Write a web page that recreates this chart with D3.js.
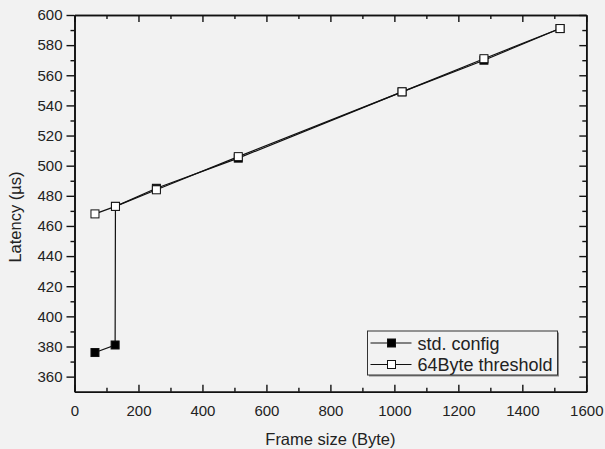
<!DOCTYPE html>
<html>
<head>
<meta charset="utf-8">
<script src="https://cdn.jsdelivr.net/npm/d3@7"></script>
<style>
  html, body { margin: 0; padding: 0; background: #f2f2f2; }
  svg { display: block; font-family: "Liberation Sans", Arial, sans-serif; }
</style>
</head>
<body>
<div id="chart-area"></div>
<script>
// data
const stdSize = [64, 127, 128, 256, 512, 1024, 1280, 1518];
const stdLatency = [376, 381, 473, 485, 505, 549, 570, 591];
const thrSize = [64, 128, 256, 512, 1024, 1280, 1518];
const thrLatency = [468, 473, 484, 506, 549, 571, 591];
const seriesNames = ["std. config", "64Byte threshold"];
const xTicks = [0, 200, 400, 600, 800, 1000, 1200, 1400, 1600];
const yTicks = [360, 380, 400, 420, 440, 460, 480, 500, 520, 540, 560, 580, 600];

const W = 605, H = 449;
const plot = {LEFT: 74.5, TOP: 15, RIGHT: 586.3, BOTTOM: 391.7};

let svg = d3.select("#chart-area").append("svg")
  .attr("width", W).attr("height", H);

svg.append("rect").attr("width", W).attr("height", H).attr("fill", "#f2f2f2");

let x = d3.scaleLinear().domain([0, 1600]).range([plot.LEFT, plot.RIGHT]);
let y = d3.scaleLinear().domain([350, 600]).range([plot.BOTTOM, plot.TOP]);

const minorX = d3.range(100, 1600, 200);
const minorY = d3.range(350, 600, 20).filter(v => v > 350);
const fmt = d3.format("d");

function styleAxis(g) {
  g.selectAll("path").attr("stroke", "#111").attr("stroke-width", 1.6);
  g.selectAll("line").attr("stroke", "#111").attr("stroke-width", 1.4);
  g.selectAll("text").attr("fill", "#222").attr("font-size", "15px")
    .attr("font-family", "Liberation Sans, Arial, sans-serif");
}

// left axis (ticks outward)
svg.append("g").attr("transform", `translate(${plot.LEFT},0)`)
  .call(d3.axisLeft(y).tickValues(yTicks).tickSize(8).tickSizeOuter(0).tickPadding(4).tickFormat(fmt))
  .call(styleAxis);
svg.append("g").attr("transform", `translate(${plot.LEFT},0)`)
  .call(d3.axisLeft(y).tickValues(minorY).tickSize(4).tickSizeOuter(0).tickFormat(""))
  .call(styleAxis);

// bottom axis (ticks inward)
svg.append("g").attr("transform", `translate(0,${plot.BOTTOM})`)
  .call(d3.axisBottom(x).tickValues(xTicks).tickSize(-7).tickSizeOuter(0).tickPadding(14).tickFormat(fmt))
  .call(styleAxis);
svg.append("g").attr("transform", `translate(0,${plot.BOTTOM})`)
  .call(d3.axisBottom(x).tickValues(minorX).tickSize(-4).tickSizeOuter(0).tickFormat(""))
  .call(styleAxis);

// top axis (ticks inward, no labels)
svg.append("g").attr("transform", `translate(0,${plot.TOP})`)
  .call(d3.axisTop(x).tickValues(xTicks).tickSize(-7).tickSizeOuter(0).tickFormat(""))
  .call(styleAxis);
svg.append("g").attr("transform", `translate(0,${plot.TOP})`)
  .call(d3.axisTop(x).tickValues(minorX).tickSize(-4).tickSizeOuter(0).tickFormat(""))
  .call(styleAxis);

// right axis (ticks inward, no labels)
svg.append("g").attr("transform", `translate(${plot.RIGHT},0)`)
  .call(d3.axisRight(y).tickValues(yTicks).tickSize(-7).tickSizeOuter(0).tickFormat(""))
  .call(styleAxis);
svg.append("g").attr("transform", `translate(${plot.RIGHT},0)`)
  .call(d3.axisRight(y).tickValues(minorY).tickSize(-4).tickSizeOuter(0).tickFormat(""))
  .call(styleAxis);

// axis titles
svg.append("text")
  .attr("x", (plot.LEFT + plot.RIGHT) / 2).attr("y", 445)
  .attr("text-anchor", "middle").attr("font-size", "16.5px").attr("fill", "#222")
  .text("Frame size (Byte)");
svg.append("text")
  .attr("transform", `translate(21,217) rotate(-90)`)
  .attr("text-anchor", "middle").attr("font-size", "16.5px").attr("fill", "#222")
  .text("Latency (µs)");

// series
const line = d3.line().x(d => x(d[0])).y(d => y(d[1]));
const stdData = stdSize.map((s, i) => [s, stdLatency[i]]);
const thrData = thrSize.map((s, i) => [s, thrLatency[i]]);

function drawSeries(data, fill) {
  svg.append("path").attr("d", line(data))
    .attr("fill", "none").attr("stroke", "#111").attr("stroke-width", 1.2);
  svg.append("g").selectAll("rect").data(data).enter().append("rect")
    .attr("x", d => x(d[0]) - 4).attr("y", d => y(d[1]) - 4)
    .attr("width", 8).attr("height", 8)
    .attr("fill", fill).attr("stroke", "#111").attr("stroke-width", 1);
}
drawSeries(stdData, "#000");
drawSeries(thrData, "#fff");

// legend
const leg = {x: 367.5, y: 331, w: 190, h: 44};
svg.append("rect").attr("x", leg.x + 1.5).attr("y", leg.y + 1.5)
  .attr("width", leg.w).attr("height", leg.h).attr("fill", "#888");
svg.append("rect").attr("x", leg.x).attr("y", leg.y)
  .attr("width", leg.w).attr("height", leg.h)
  .attr("fill", "#f2f2f2").attr("stroke", "#333").attr("stroke-width", 1);

const legRows = [[seriesNames[0], "#000"], [seriesNames[1], "#fff"]];
legRows.forEach(function(r, i) {
  let cy = leg.y + 12 + i * 21.5;
  svg.append("line").attr("x1", leg.x + 3).attr("x2", leg.x + 44)
    .attr("y1", cy).attr("y2", cy).attr("stroke", "#111").attr("stroke-width", 1.2);
  svg.append("rect").attr("x", leg.x + 24 - 4).attr("y", cy - 4)
    .attr("width", 8).attr("height", 8)
    .attr("fill", r[1]).attr("stroke", "#111").attr("stroke-width", 1);
  svg.append("text").attr("x", leg.x + 50).attr("y", cy + 6.5)
    .attr("font-size", "18px").attr("fill", "#222").text(r[0]);
});
</script>
</body>
</html>
